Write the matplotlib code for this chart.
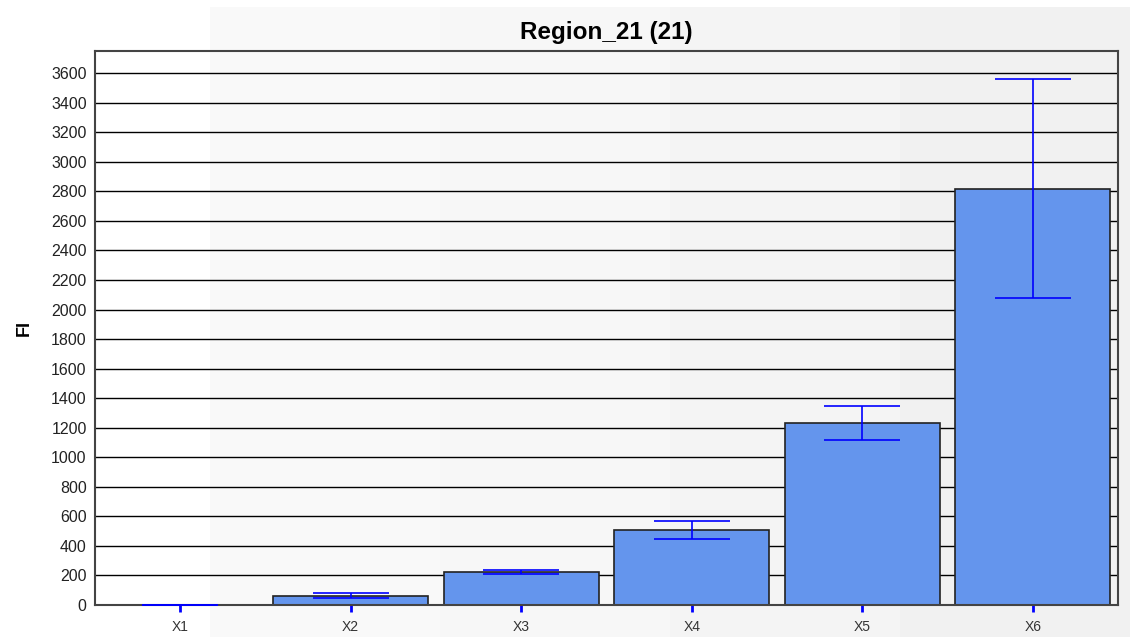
import numpy as np
import matplotlib
matplotlib.use("Agg")
import matplotlib.pyplot as plt

# Mean fluorescence intensity per sample with standard deviation
categories = ["X1", "X2", "X3", "X4", "X5", "X6"]
means = [0, 61, 223, 507, 1233, 2817]
errors = [0, 17, 14, 60, 117, 741]
y_ticks = list(range(0, 3601, 200))

plt.rcParams["font.family"] = ["Liberation Sans", "DejaVu Sans"]

fig = plt.figure(figsize=(11.30, 6.37), dpi=100)

# stepped horizontal gradient behind the whole chart
bg = fig.add_axes([0, 0, 1, 1], zorder=-1)
bg.set_xlim(0, 1130)
bg.set_ylim(637, 0)
bg.axis("off")
steps = np.array([0.98, 0.97, 0.96, 0.948])
grad = steps[None, :, None] * np.ones((1, 1, 3))
bg.imshow(grad, extent=[210, 1130, 637, 7], aspect="auto", interpolation="nearest")

ax = fig.add_axes([95 / 1130, 1 - 605 / 637, (1118 - 95) / 1130, (605 - 51) / 637])
ax.patch.set_alpha(0)

x = np.arange(len(categories))
ax.set_axisbelow(True)
ax.yaxis.grid(True, color="black", linewidth=1)
ax.bar(x, means, width=0.91, color="#6495ed", edgecolor="#222222", linewidth=1.2, zorder=2)
ax.errorbar(x, means, yerr=errors, fmt="none", ecolor="#0000ff", elinewidth=1.2,
            capsize=27.4, capthick=1.2, zorder=3)

ax.set_xlim(-0.5, len(categories) - 0.5)
ax.set_ylim(0, 3750)
ax.set_yticks(y_ticks)
ax.set_xticks(x)
ax.set_xticklabels(categories, fontsize=10, color="#333333")
ax.tick_params(axis="x", length=5, width=2, color="#0000ff", pad=6)
ax.tick_params(axis="y", length=0, labelsize=11.5, pad=6, labelcolor="#222222")
for s in ax.spines.values():
    s.set_color("#444444")
    s.set_linewidth(1.5)

ax.set_ylabel("FI", fontsize=13, fontweight="bold", labelpad=13)
ax.set_title("Region_21 (21)", fontsize=17.5, fontweight="bold", pad=9)

fig.savefig("out.png", dpi=100)
